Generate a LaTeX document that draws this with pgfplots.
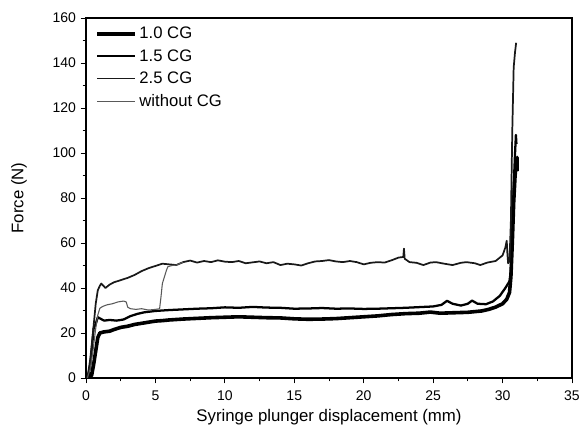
\documentclass[border=0pt]{standalone}
\usepackage{pgfplots}
\pgfplotsset{compat=1.18}
\usepackage{fontspec}
\setmainfont{Liberation Sans}
\begin{document}
\begin{tikzpicture}
\useasboundingbox (-64.5pt,-41.25pt) rectangle (372.75pt,283.5pt);
\begin{axis}[
  at={(0,0)}, anchor=south west,
  scale only axis, width=364.5pt, height=270pt,
  xmin=0, xmax=35, ymin=0, ymax=160,
  xtick={0,5,...,35}, ytick={0,20,...,160},
  minor x tick num=1, minor y tick num=1,
  tick align=outside, tick pos=left,
  major tick length=4pt, minor tick length=2.5pt,
  tick style={black, line width=0.7pt},
  axis line style={line width=0.9pt},
  /pgf/number format/assume math mode=true,
  ticklabel style={font=\fontsize{10.5}{12}\selectfont},
  xticklabel style={yshift=-2pt},
  xlabel={Syringe plunger displacement (mm)},
  ylabel={Force (N)},
  label style={font=\fontsize{12.6}{14}\selectfont},
  xlabel style={at={(axis description cs:0.5,-0.109)}, anchor=center},
  ylabel style={at={(axis description cs:-0.138,0.5)}, anchor=center},
  legend style={draw=none, fill=none, at={(0.013,0.99)}, anchor=north west,
    font=\fontsize{12.5}{14}\selectfont, row sep=2.5pt, inner sep=2pt},
  legend cell align=left,
  legend image code/.code={\draw[#1] (0cm,0cm) -- (1.0cm,0cm);},
]
\addplot[black, line width=2.7pt, line join=round] coordinates {
(0.1,0)(0.25,2)(0.4,1)(0.55,6)(0.7,12)(0.85,18)(1.0,20)(1.3,20.5)(1.7,20.8)(2.0,21.5)(2.5,22.5)(3,23)(3.5,23.8)(4,24.3)(4.5,24.8)(5,25.3)(5.5,25.5)(6,25.8)(7,26.2)(8,26.5)(9,26.8)(10,27)(11,27.2)(12,27)(13,26.8)(14,26.7)(15,26.3)(16,26.1)(17,26.2)(18,26.4)(19,26.8)(20,27.2)(21,27.6)(22,28.2)(23,28.6)(24,28.8)(24.8,29.3)(25.5,28.8)(26.5,29)(27.5,29.2)(28.5,29.8)(29,30.5)(29.5,31.5)(30,33)(30.3,35)(30.5,38)(30.6,45)(30.7,60)(30.8,78)(30.9,90)(31.0,96)(31.05,98)(31.05,92)
};
\addlegendentry{1.0 CG}
\addplot[black, line width=1.7pt, line join=round] coordinates {
(0.1,0)(0.3,5)(0.45,15)(0.55,22)(0.7,24)(0.85,27)(1.0,26.5)(1.3,25.5)(1.7,25.8)(2.2,25.5)(2.7,26)(3.2,27.5)(3.7,28.5)(4.2,29.2)(5,29.8)(6,30.2)(7,30.5)(8,30.8)(9,31)(10,31.4)(11,31.2)(12,31.6)(13,31.3)(14,31.2)(15,30.8)(16,30.9)(17,31.1)(18,30.8)(19,30.9)(20,30.7)(21,30.8)(22,31)(23,31.2)(24,31.5)(25,31.8)(25.6,32.5)(26,34.3)(26.4,33)(27,32.2)(27.5,33)(27.8,34.4)(28.2,33)(28.8,32.8)(29.3,34)(29.8,36.5)(30.2,40)(30.5,43)(30.6,48)(30.7,65)(30.8,85)(30.9,100)(30.96,108)(31.0,104)
};
\addlegendentry{1.5 CG}
\addplot[black!90, line width=1.3pt, line join=round] coordinates {
(0.1,0)(0.3,8)(0.5,20)(0.7,33)(0.85,39)(1.0,41)(1.1,42)(1.25,41)(1.4,40)(1.7,41.5)(2.0,42.5)(2.5,43.5)(3.0,44.5)(3.5,45.8)(4.0,47.5)(4.5,48.8)(5.0,49.8)(5.5,50.8)(6.0,50.5)(6.5,50.2)(7.0,51.5)(7.5,52.2)(8,51.3)(8.5,52)(9,51.5)(9.5,52.3)(10,51.7)(10.5,51.5)(11,52)(11.5,51)(12,51.4)(12.5,51.8)(13,51)(13.5,51.5)(14,50.2)(14.5,50.8)(15,50.5)(15.5,50)(16,51)(16.5,51.8)(17,52)(17.5,52.4)(18,51.8)(18.5,51.5)(19,52)(19.5,51.5)(20,50.5)(20.5,51.2)(21,51.5)(21.5,51.3)(22,52.3)(22.5,53.5)(22.85,53.8)(22.9,57.5)(22.95,53)(23.3,51.5)(23.8,51.2)(24.3,50.2)(24.8,51.3)(25.2,51.5)(25.8,50.8)(26.4,50.2)(27,51.2)(27.4,51.5)(28,51)(28.4,50.2)(28.9,51.3)(29.5,52)(30.0,54.5)(30.2,58)(30.3,61)(30.35,55)(30.4,51)(30.5,52)(30.6,70)(30.7,110)(30.8,138)(30.9,145)(30.98,149)
};
\addlegendentry{2.5 CG}
\addplot[black!65, line width=0.8pt, line join=round] coordinates {
(0.1,0)(0.3,4)(0.5,12)(0.7,22)(0.85,28)(1.0,31)(1.2,31.8)(1.5,32.5)(1.9,33)(2.3,33.8)(2.7,34.2)(2.9,33.8)(3.0,31.5)(3.2,30.8)(3.6,30.5)(4.0,30.8)(4.5,30.2)(5.0,30.5)(5.3,30.8)(5.4,36)(5.5,42)(5.6,44)(5.7,46)(5.8,48)(5.9,49.5)(6.2,50)(6.5,50.2)(7.0,51.5)
};
\addlegendentry{without CG}
\end{axis}
\end{tikzpicture}
\end{document}
